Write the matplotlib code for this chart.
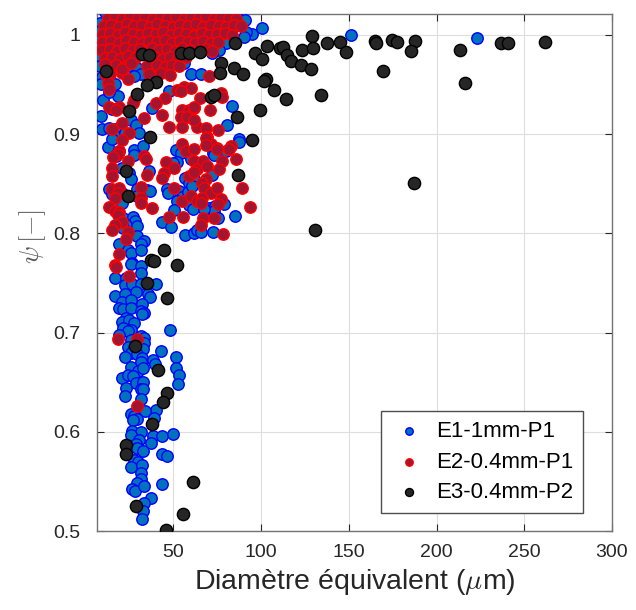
import numpy as np
import matplotlib.pyplot as plt

plt.rcParams['font.family'] = ['Liberation Sans', 'DejaVu Sans']
plt.rcParams['mathtext.fontset'] = 'cm'

# =========================
# DATA (diametre equivalent [um], sphericite psi [-])
# =========================
e1_pts = [
    # dense cloud near psi = 1
    (11, 1.023), (17, 1.024), (23, 1.022), (30, 1.024), (37, 1.023), (44, 1.022), (51, 1.024),
    (58, 1.023), (65, 1.022), (72, 1.024), (79, 1.023), (86, 1.022), (91, 1.015),
    (8.3, 1.012), (8.0, 1.004), (8.6, 0.996), (8.2, 0.988), (9.0, 0.978), (8.4, 0.969),
    (9.5, 0.958), (8.8, 0.950), (10.0, 0.934), (8.6, 0.918), (9.4, 0.905),
    (94.9, 1.001), (91.5, 1.003), (83.0, 1.004), (87.5, 1.010), (100.6, 1.007), (90.0, 0.998),
    (80.0, 0.992), (76.0, 0.985), (30, 1.0), (50, 0.99), (20, 0.98), (60, 1.01),
    (11.9, 0.996), (72.2, 0.982), (151.1, 1.000), (223.3, 0.997),
    # upper scatter
    (11.9, 0.978), (16.5, 0.975), (19.9, 0.974), (26.1, 0.969), (29.5, 0.967), (31.8, 0.961),
    (27.8, 0.959), (39.2, 0.963), (16.5, 0.950), (18.2, 0.938), (13.6, 0.942), (47.7, 0.943),
    (60.2, 0.961), (65.9, 0.961), (56.3, 0.972), (38.1, 0.926), (14.8, 0.925), (18.2, 0.926),
    (26.1, 0.914), (29.0, 0.909), (13.1, 0.906), (16.5, 0.905), (30.7, 0.901), (19.3, 0.897),
    (22.2, 0.901), (83.5, 0.928), (80.7, 0.909), (87.5, 0.895),
    # middle band
    (12.5, 0.887), (14.8, 0.895), (27.8, 0.884), (27.8, 0.879), (33.0, 0.888), (19.3, 0.883),
    (17.6, 0.878), (51.7, 0.884), (54.5, 0.881), (52.3, 0.872), (50.0, 0.871), (60.2, 0.875),
    (20.5, 0.866), (25.0, 0.861), (26.1, 0.855), (36.4, 0.863), (56.8, 0.856), (59.1, 0.851),
    (61.9, 0.855), (13.6, 0.845), (14.8, 0.840), (20.5, 0.841), (29.5, 0.845), (35.2, 0.844),
    (36.9, 0.843), (46.6, 0.845), (47.2, 0.841), (53.4, 0.843), (55.1, 0.837), (58.5, 0.842),
    (60.8, 0.848), (29.5, 0.838), (20.5, 0.831), (52.3, 0.833), (59.1, 0.829), (61.4, 0.825),
    (50.6, 0.824), (21.6, 0.815), (27.3, 0.816), (28.4, 0.812), (43.8, 0.811), (48.9, 0.806),
    (23.3, 0.808), (21.6, 0.805), (29.5, 0.807), (29.5, 0.797), (56.8, 0.798), (61.9, 0.800),
    (63.6, 0.803), (33.5, 0.792), (31.8, 0.789), (19.3, 0.789), (23.9, 0.783), (25.6, 0.780),
    (31.8, 0.783), (26.7, 0.770),
    (87.5, 0.892), (72.7, 0.881), (73.3, 0.879), (80.1, 0.883), (72.2, 0.859), (70.5, 0.826),
    (73.9, 0.828), (73.3, 0.822), (75.6, 0.815), (79.0, 0.830), (85.2, 0.817), (65.9, 0.801),
    (72.7, 0.801), (67.6, 0.825),
    # lower tail
    (26.1, 0.769), (31.8, 0.767), (31.8, 0.760), (17.0, 0.755), (23.3, 0.755), (22.7, 0.748),
    (26.7, 0.749), (31.8, 0.749), (40.3, 0.749), (28.7, 0.741), (17.0, 0.737), (22.2, 0.739),
    (35.8, 0.739), (36.9, 0.736), (20.5, 0.731), (25.6, 0.733), (32.4, 0.729), (19.3, 0.725),
    (21.6, 0.724), (26.1, 0.725), (31.8, 0.722), (33.5, 0.720), (32.4, 0.719), (23.3, 0.715),
    (21.0, 0.711), (25.0, 0.713), (27.8, 0.710), (21.6, 0.705), (26.1, 0.703), (23.9, 0.702),
    (48.3, 0.703), (19.3, 0.698), (31.8, 0.697), (33.5, 0.695), (26.1, 0.692), (33.5, 0.689),
    (23.9, 0.685), (27.8, 0.684), (33.0, 0.683), (26.1, 0.679), (29.5, 0.678), (43.2, 0.681),
    (22.7, 0.675), (32.4, 0.674), (31.8, 0.670), (38.6, 0.672), (39.8, 0.668), (51.7, 0.675),
    (25.6, 0.665), (30.1, 0.661), (33.0, 0.664), (51.7, 0.664), (20.5, 0.654), (23.9, 0.657),
    (27.3, 0.656), (53.4, 0.657), (29.0, 0.649), (33.0, 0.650), (52.8, 0.648), (23.3, 0.644),
    (31.3, 0.643), (33.0, 0.643),
    (22.2, 0.636), (31.6, 0.633), (40.2, 0.622), (33.9, 0.621), (25.6, 0.618), (27.8, 0.616),
    (29.5, 0.613), (27.3, 0.612), (39.2, 0.614), (26.7, 0.601), (31.8, 0.600), (26.1, 0.597),
    (30.7, 0.592), (29.0, 0.588), (38.6, 0.596), (37.5, 0.589), (43.8, 0.596), (50.0, 0.598),
    (29.5, 0.584), (33.0, 0.581), (43.8, 0.578), (46.6, 0.576), (27.8, 0.572), (30.1, 0.570),
    (26.1, 0.565), (32.4, 0.567), (31.8, 0.558), (31.3, 0.552), (29.5, 0.548), (26.7, 0.542),
    (28.4, 0.540), (33.5, 0.545), (43.8, 0.547), (37.5, 0.533), (33.5, 0.528), (33.0, 0.520),
    (32.4, 0.512),
]

e2_pts = [
    # dense cloud near psi = 1
    (12.5, 1.017), (16.8, 1.018), (21.0, 1.016), (25.3, 1.019), (29.6, 1.017), (34.0, 1.018),
    (38.2, 1.016), (42.7, 1.019), (47.1, 1.017), (51.5, 1.018), (55.8, 1.016), (60.2, 1.018),
    (64.5, 1.017), (68.9, 1.019), (73.0, 1.016), (77.4, 1.018), (81.7, 1.017), (86.0, 1.016),
    (10.5, 1.009), (14.7, 1.010), (19.0, 1.008), (23.4, 1.011), (27.8, 1.009), (32.1, 1.010),
    (36.5, 1.008), (40.8, 1.011), (45.2, 1.009), (49.6, 1.008), (54.0, 1.010), (58.3, 1.009),
    (62.7, 1.011), (67.1, 1.008), (71.4, 1.010), (75.8, 1.009), (80.2, 1.008), (84.5, 1.010),
    (88.6, 1.009),
    (9.8, 1.001), (13.9, 1.002), (18.2, 1.000), (22.6, 1.003), (26.9, 1.001), (31.3, 1.000),
    (35.7, 1.002), (40.0, 1.001), (44.4, 1.003), (48.8, 1.000), (53.1, 1.002), (57.5, 1.001),
    (61.9, 0.999), (66.2, 1.002), (70.6, 1.000), (75.0, 1.001), (79.3, 1.002), (83.6, 1.000),
    (10.2, 0.993), (14.5, 0.994), (18.9, 0.992), (23.2, 0.995), (27.6, 0.993), (32.0, 0.992),
    (36.3, 0.994), (40.7, 0.993), (45.1, 0.995), (49.4, 0.992), (53.8, 0.994), (58.2, 0.993),
    (62.5, 0.992), (66.9, 0.994), (71.3, 0.992), (75.5, 0.993),
    (9.5, 0.985), (13.8, 0.986), (18.1, 0.984), (22.5, 0.987), (26.8, 0.985), (31.2, 0.986),
    (37.8, 0.987), (42.0, 0.985), (46.4, 0.986), (50.8, 0.984), (55.1, 0.987), (59.5, 0.985),
    (68.6, 0.986), (72.0, 0.984),
    (11.0, 0.977), (15.3, 0.978), (19.7, 0.976), (24.0, 0.979), (28.4, 0.977), (39.5, 0.978),
    (43.9, 0.976), (48.2, 0.978), (52.6, 0.977), (57.0, 0.978),
    (12.0, 0.969), (17.5, 0.970), (22.0, 0.968), (35.0, 0.969), (40.5, 0.970), (45.0, 0.968),
    (49.5, 0.970), (53.0, 0.969), (14.0, 0.961), (20.5, 0.962), (36.0, 0.961), (43.0, 0.962),
    (48.0, 0.960), (10.8, 0.971), (11.5, 0.960),
    # upper scatter
    (23.9, 0.956), (21.0, 0.966), (26.1, 0.972), (12.5, 0.951), (13.1, 0.945), (45.5, 0.936),
    (56.3, 0.947), (60.2, 0.946), (52.3, 0.944), (54.5, 0.943), (40.3, 0.931), (27.8, 0.934),
    (27.3, 0.931), (13.6, 0.927), (19.3, 0.927), (17.6, 0.924), (33.5, 0.916), (43.8, 0.919),
    (55.1, 0.924), (59.1, 0.924), (61.9, 0.926), (54.5, 0.917), (58.0, 0.917), (47.7, 0.907),
    (55.1, 0.907), (63.6, 0.907), (15.3, 0.905), (20.5, 0.911), (25.0, 0.901),
    (70.5, 0.959), (65.3, 0.936), (77.3, 0.941), (77.8, 0.937), (71.0, 0.924), (61.9, 0.927),
    (61.9, 0.914), (68.8, 0.906), (69.3, 0.897), (75.6, 0.904), (75.0, 0.886), (83.0, 0.888),
    (71.6, 0.890),
    # middle band
    (21.0, 0.894), (19.3, 0.883), (18.2, 0.880), (15.9, 0.877), (23.9, 0.873), (33.5, 0.878),
    (34.7, 0.875), (46.0, 0.872), (55.1, 0.890), (57.4, 0.883), (61.9, 0.885), (61.9, 0.873),
    (50.6, 0.866), (44.9, 0.861), (43.8, 0.856), (63.6, 0.865), (15.3, 0.866), (14.8, 0.858),
    (35.2, 0.859), (31.8, 0.847), (15.3, 0.845), (19.3, 0.846), (18.2, 0.841), (16.5, 0.836),
    (25.0, 0.838), (50.6, 0.846), (59.1, 0.858), (61.9, 0.862), (55.1, 0.833), (60.2, 0.838),
    (63.6, 0.833), (31.3, 0.836), (31.8, 0.831), (13.6, 0.827), (16.5, 0.823), (19.3, 0.821),
    (38.1, 0.826), (18.2, 0.818), (20.5, 0.811), (16.5, 0.808), (47.7, 0.816), (55.7, 0.816),
    (23.9, 0.801), (23.3, 0.794), (15.3, 0.803), (18.8, 0.779), (16.5, 0.768),
    (68.8, 0.896), (68.8, 0.889), (75.0, 0.885), (81.8, 0.885), (77.8, 0.873), (67.0, 0.873),
    (69.3, 0.868), (85.8, 0.875), (76.1, 0.865), (68.8, 0.855), (66.5, 0.851), (67.6, 0.846),
    (71.6, 0.841), (75.0, 0.846), (89.2, 0.846), (77.3, 0.835), (75.6, 0.830), (93.8, 0.827),
    (66.5, 0.836), (65.9, 0.831), (67.0, 0.815), (73.3, 0.815), (65.9, 0.808), (78.4, 0.799),
    # lower tail
    (17.2, 0.766), (24.6, 0.757), (18.4, 0.693), (29.1, 0.694), (29.1, 0.626),
]

e3_pts = [
    (32.4, 0.981), (36.4, 0.980), (54.5, 0.982), (59.1, 0.982), (65.3, 0.983), (11.9, 0.964),
    (40.3, 0.953), (35.2, 0.949), (29.5, 0.940), (25.0, 0.923), (36.9, 0.897), (71.6, 0.937),
    (73.3, 0.939), (77.3, 0.972), (76.7, 0.962), (85.2, 0.992), (84.7, 0.967), (89.8, 0.961),
    (103.4, 0.989), (96.6, 0.982), (100.6, 0.976), (110.8, 0.987), (112.5, 0.988), (114.8, 0.980),
    (117.0, 0.974), (122.7, 0.970), (123.3, 0.985), (129.0, 0.999), (129.5, 0.987), (128.4, 0.966),
    (137.5, 0.992), (144.9, 0.993), (148.3, 0.983), (164.8, 0.994), (165.3, 0.992), (174.4, 0.995),
    (177.3, 0.993), (187.5, 0.994), (185.2, 0.984), (169.3, 0.964), (102.8, 0.956), (101.7, 0.954),
    (107.4, 0.944), (114.2, 0.935), (134.1, 0.939), (99.4, 0.924), (86.4, 0.917), (94.9, 0.894),
    (86.9, 0.859), (213.6, 0.985), (216.5, 0.951), (236.9, 0.992), (240.9, 0.992), (261.9, 0.993),
    (186.9, 0.851), (130.7, 0.803), (23.3, 0.863), (23.9, 0.838), (44.9, 0.783), (37.5, 0.773),
    (39.2, 0.772), (52.3, 0.768), (35.2, 0.750), (46.6, 0.735), (28.4, 0.686), (41.5, 0.662),
    (46.6, 0.639), (44.3, 0.630), (38.1, 0.608), (23.3, 0.587), (23.3, 0.578), (61.4, 0.549),
    (29.0, 0.525), (55.7, 0.517), (46.0, 0.501),
]

labels = ["E1-1mm-P1", "E2-0.4mm-P1", "E3-0.4mm-P2"]
x_ticks = [50, 100, 150, 200, 250, 300]
y_ticks = [0.5, 0.6, 0.7, 0.8, 0.9, 1.0]

e1 = np.array(e1_pts)
e2 = np.array(e2_pts)
e3 = np.array(e3_pts)

# =========================
# Chart
# =========================
fig = plt.figure(figsize=(6.36, 6.10), dpi=100)
ax = fig.add_axes([0.1525, 0.1295, 0.8098, 0.8475])

ax.scatter(e1[:, 0], e1[:, 1], s=68, c=[(0, 0.447, 0.741)], edgecolors=[(0, 0, 1)],
           linewidths=1, label=labels[0], zorder=3)
ax.scatter(e2[:, 0], e2[:, 1], s=68, c=[(0.635, 0.078, 0.184)], edgecolors=[(1, 0, 0)],
           linewidths=1, label=labels[1], zorder=4)
ax.scatter(e3[:, 0], e3[:, 1], s=78, c=[(0.15, 0.15, 0.15)], edgecolors=[(0, 0, 0)],
           linewidths=1, label=labels[2], zorder=5)

ax.set_xlim(6.5, 300)
ax.set_ylim(0.5, 1.021)
ax.set_xticks(x_ticks)
ax.set_yticks(y_ticks)
ax.set_yticklabels(["0.5", "0.6", "0.7", "0.8", "0.9", "1"])

ax.grid(True, color=(0.87, 0.87, 0.87), linewidth=0.8, zorder=0)
ax.set_axisbelow(True)
ax.tick_params(direction='in', top=True, right=True, length=5, labelsize=14,
               colors=(0.15, 0.15, 0.15), width=0.8)
ax.tick_params(axis='y', pad=12)
ax.tick_params(axis='x', pad=9)
for sp in ax.spines.values():
    sp.set_color((0.45, 0.45, 0.45))
    sp.set_linewidth(1.0)

ax.set_xlabel(r"Diamètre équivalent ($\mu$m)", fontsize=20.5, color=(0.15, 0.15, 0.15), labelpad=5)
ax.set_ylabel(r"$\psi\,[-]$", fontsize=19, color=(0.35, 0.35, 0.35))
ax.yaxis.set_label_coords(-0.095, 0.57)

leg = ax.legend(loc='lower right', bbox_to_anchor=(0.944, 0.035), borderaxespad=0,
                fontsize=16, markerscale=0.65, handletextpad=0.4, handlelength=1.6,
                labelspacing=0.42, fancybox=False, framealpha=1, scatterpoints=1,
                borderpad=0.45)
leg.get_frame().set_edgecolor((0.3, 0.3, 0.3))
leg.get_frame().set_linewidth(1.0)

fig.savefig("out.png", dpi=100)
